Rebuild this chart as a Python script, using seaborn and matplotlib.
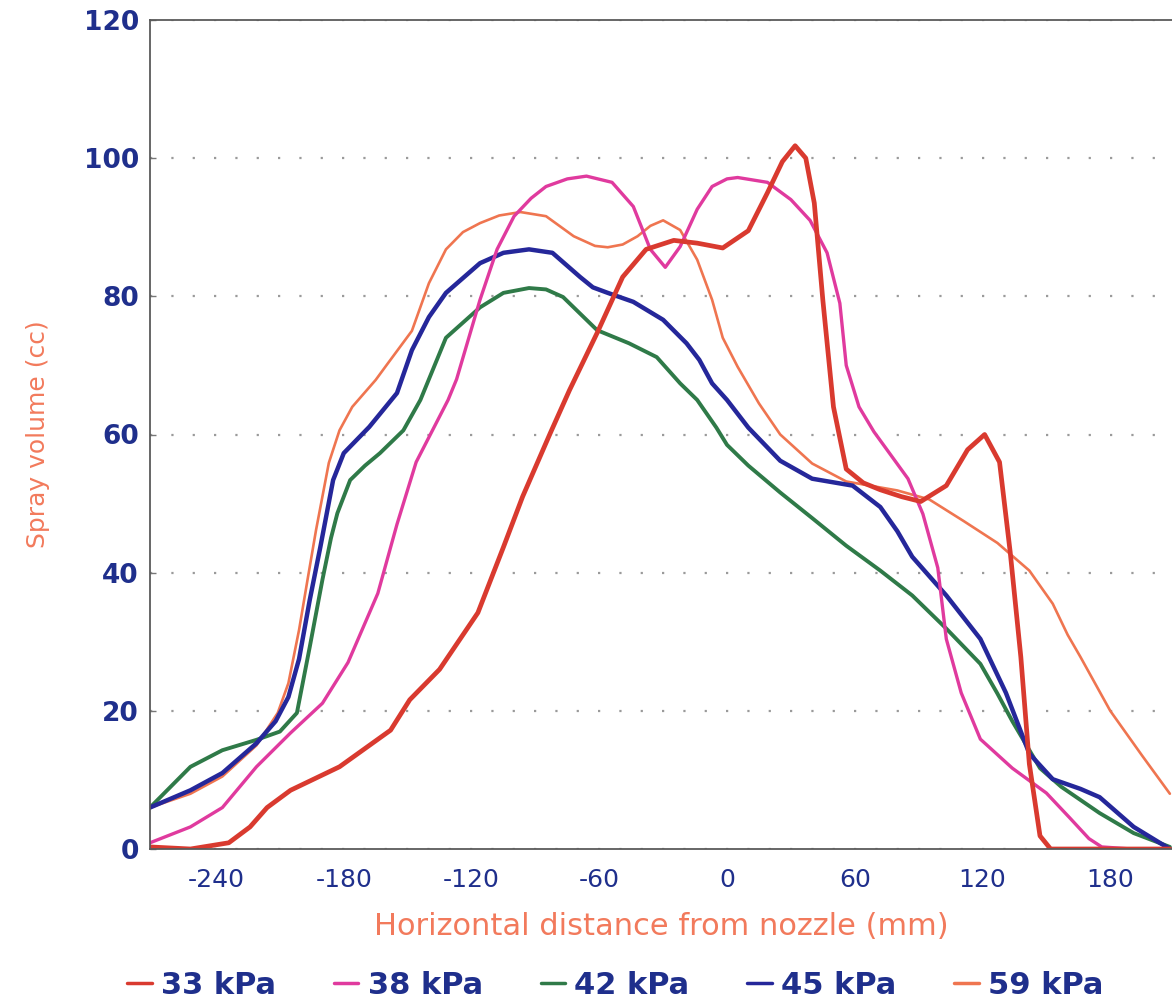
import matplotlib
matplotlib.use("Agg")
import matplotlib.pyplot as plt
import seaborn as sns

# ---------------- data ----------------
series_labels = ["33 kPa", "38 kPa", "42 kPa", "45 kPa", "59 kPa"]

x_33 = [-271, -252, -234, -224, -216, -205, -182, -158, -149, -135, -117, -105, -96, -83, -74,
        -61, -49, -38, -25, -14, -2, 10, 19, 26, 32, 37, 41, 45, 50, 56, 64, 72, 82, 91, 103,
        113, 121, 128, 133, 138, 142, 147, 152, 170, 190, 208]
y_33 = [0.3, 0, 0.9, 3.2, 6, 8.5, 11.9, 17.2, 21.6, 26, 34.2, 43.7, 51, 60.2, 66.4,
        74.7, 82.8, 86.8, 88.1, 87.7, 87, 89.5, 95, 99.5, 101.8, 100, 93.5, 79.5, 64, 55, 53, 52, 51, 50.3, 52.6,
        57.8, 60, 56, 43, 27.8, 12.3, 1.9, 0, 0, 0, 0]

x_38 = [-271, -252, -237, -221, -205, -190, -178, -164, -155, -146, -136, -131, -127, -116, -108,
        -100, -92, -85, -75, -66, -54, -44, -36, -29, -22, -14, -7, 0, 5, 19, 30, 39, 47, 53,
        56, 62, 69, 77, 85, 92, 99, 103, 110, 119, 134, 150, 161, 170, 176, 190, 208]
y_38 = [0.9, 3.2, 6, 11.9, 16.8, 21.1, 27, 37, 47, 56, 62, 65, 68, 79.5, 86.8,
        91.6, 94.2, 95.9, 97, 97.4, 96.5, 93, 86.8, 84.2, 87.2, 92.6, 95.9, 97, 97.2, 96.5, 94, 91, 86.3, 79,
        70, 64, 60.4, 57, 53.6, 48.5, 40.7, 30.4, 22.6, 15.9, 11.7, 8.1, 4.5, 1.5, 0.3, 0, 0]

x_42 = [-271, -252, -237, -221, -210, -202, -196, -190, -186, -183, -177, -170, -163, -152, -144,
        -140, -132, -116, -105, -93, -85, -77, -69, -61, -46, -33, -22, -14, -5, 0, 10, 25, 40,
        56, 72, 87, 103, 119, 127, 134, 147, 157, 166, 175, 191, 208]
y_42 = [6, 11.9, 14.3, 15.8, 17, 19.7, 29.2, 39, 45, 48.6, 53.4, 55.5, 57.3, 60.6, 65,
        68, 74, 78.4, 80.5, 81.2, 81, 79.9, 77.5, 75.1, 73.2, 71.2, 67.4, 65, 61, 58.5, 55.5, 51.6, 47.9,
        43.9, 40.3, 36.7, 31.9, 26.8, 22.5, 18.5, 11.7, 9, 7.1, 5.2, 2.3, 0.3]

x_45 = [-271, -252, -237, -221, -212, -206, -201, -196, -191, -185, -180, -168, -155, -148, -140,
        -132, -116, -105, -93, -82, -69, -63, -56, -44, -30, -19, -13, -7, 0, 10, 25, 40, 59,
        72, 80, 87, 103, 119, 131, 142, 153, 166, 175, 191, 208]
y_45 = [6, 8.5, 11, 15.3, 18.5, 22, 27.5, 36, 43.7, 53.4, 57.3, 61.1, 66, 72.2, 77,
        80.5, 84.8, 86.3, 86.8, 86.3, 82.8, 81.3, 80.5, 79.2, 76.6, 73.2, 70.8, 67.4, 65, 61, 56.2, 53.6, 52.6,
        49.5, 46, 42.3, 36.7, 30.4, 22.6, 13.8, 10.1, 8.7, 7.5, 3.2, 0]

x_59 = [-271, -252, -237, -221, -211, -206, -201, -197, -193, -187, -182, -176, -165, -160, -148,
        -140, -132, -124, -116, -107, -97, -85, -72, -62, -56, -49, -42, -36, -30, -22, -14, -7,
        -2, 5, 15, 25, 40, 56, 80, 95, 111, 127, 142, 153, 160, 166, 180, 195, 208]
y_59 = [6, 8, 10.5, 15, 19.7, 24, 31.7, 39, 46.2, 55.9, 60.6, 64, 67.9, 70, 75,
        81.9, 86.8, 89.3, 90.6, 91.7, 92.2, 91.6, 88.7, 87.3, 87.1, 87.5, 88.7, 90.2, 91, 89.6, 85.3, 79.5,
        74, 69.8, 64.5, 60, 55.8, 53.2, 51.9, 50.6, 47.5, 44.3, 40.3, 35.5, 31, 27.8, 20, 13.5, 8]

x_ticks = [-240, -180, -120, -60, 0, 60, 120, 180]
y_ticks = [0, 20, 40, 60, 80, 100, 120]
x_label = "Horizontal distance from nozzle (mm)"
y_label = "Spray volume (cc)"

# ---------------- styling ----------------
colors = {"33 kPa": "#d93a2f", "38 kPa": "#e03a9e", "42 kPa": "#2f7a48",
          "45 kPa": "#25279a", "59 kPa": "#ef7550"}
widths = {"33 kPa": 3.4, "38 kPa": 2.4, "42 kPa": 2.8, "45 kPa": 3.2, "59 kPa": 1.9}
tick_blue = "#1f2f8c"
label_salmon = "#f27a5c"

sns.set_theme(style="white")
plt.rcParams['font.family'] = ['DejaVu Sans']

fig = plt.figure(figsize=(11.72, 10.08), dpi=100)
fig.patch.set_facecolor("white")
ax = fig.add_axes([150 / 1172, 1 - 849 / 1008, 1 - 150 / 1172, (849 - 20) / 1008])
ax.set_facecolor("white")

data = {"33 kPa": (x_33, y_33), "38 kPa": (x_38, y_38), "42 kPa": (x_42, y_42),
        "45 kPa": (x_45, y_45), "59 kPa": (x_59, y_59)}
draw_order = ["59 kPa", "42 kPa", "45 kPa", "38 kPa", "33 kPa"]
for lab in draw_order:
    xs, ys = data[lab]
    sns.lineplot(x=xs, y=ys, ax=ax, color=colors[lab], linewidth=widths[lab],
                 label=lab, sort=False, estimator=None,
                 solid_joinstyle="round", solid_capstyle="round")

ax.set_xlim(-271, 209)
ax.set_ylim(0, 120)
ax.set_xticks(x_ticks)
ax.set_yticks(y_ticks)
ax.set_xticklabels([str(v) for v in x_ticks], fontsize=18, color=tick_blue)
ax.set_yticklabels([str(v) for v in y_ticks], fontsize=19, color=tick_blue, fontweight="bold")
ax.tick_params(axis="x", length=0, pad=14)
ax.tick_params(axis="y", direction="in", length=4, width=1, color="#777777", pad=8, left=True)

ax.set_xlabel(x_label, fontsize=22, color=label_salmon, labelpad=14)
ax.set_ylabel(y_label, fontsize=18, color=label_salmon, labelpad=24)

for side in ["left", "top", "bottom"]:
    ax.spines[side].set_visible(True)
    ax.spines[side].set_color("#5a5a5a")
    ax.spines[side].set_linewidth(1.3)
ax.spines["right"].set_visible(False)

ax.yaxis.grid(True, color="#9a9a9a", linestyle=(0, (1, 8.6)), linewidth=1.6)
ax.xaxis.grid(False)
ax.set_axisbelow(True)

handles, labels = ax.get_legend_handles_labels()
order = [labels.index(l) for l in series_labels]
ax.get_legend().remove()
leg = fig.legend([handles[i] for i in order], [labels[i] for i in order],
                 loc="center", bbox_to_anchor=(0.525, 1 - 985 / 1008), ncol=5, frameon=False,
                 handlelength=0.8, handletextpad=0.3, columnspacing=1.9,
                 prop={"size": 22, "weight": "bold"})
for t in leg.get_texts():
    t.set_color(tick_blue)
for h in leg.legend_handles:
    h.set_linewidth(2.5)

fig.savefig("out.png", dpi=100, facecolor="white")
